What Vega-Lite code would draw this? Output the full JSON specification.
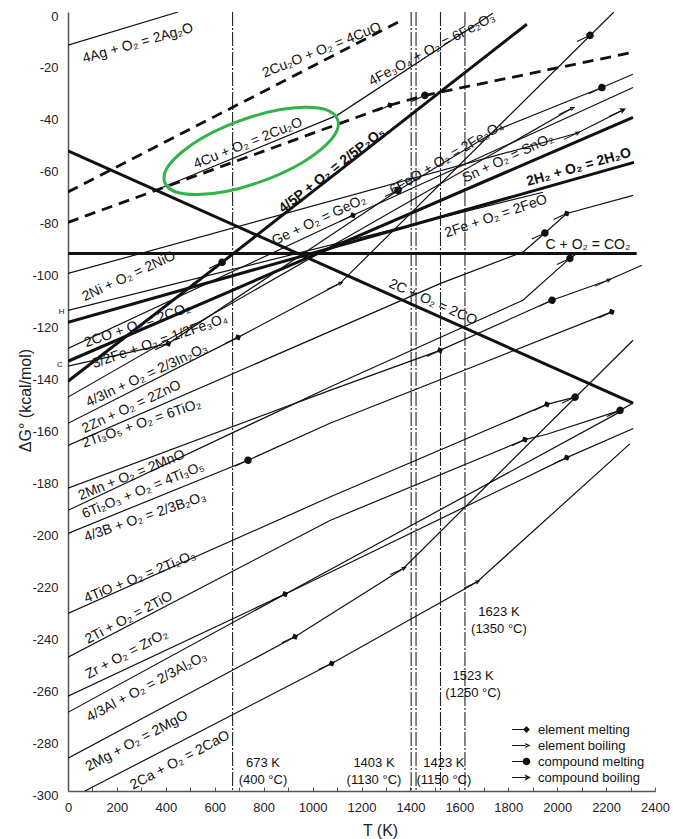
{
  "$schema": "https://vega.github.io/schema/vega-lite/v6.json",
  "width": 587,
  "height": 779,
  "autosize": {"type": "none"},
  "padding": {"left": 68, "top": 12, "right": 18, "bottom": 48},
  "background": "white",
  "config": {
    "view": {"stroke": null},
    "font": "Liberation Sans",
    "text": {"font": "Liberation Sans", "fontSize": 14, "color": "#111"}
  },
  "datasets": {
    "thin": [
      {"id": "Ag", "T": 0, "G": -12.8}, {"id": "Ag", "T": 450, "G": 0},
      {"id": "Fe2O3", "T": 388, "G": -67.5}, {"id": "Fe2O3", "T": 1100, "G": -39.8}, {"id": "Fe2O3", "T": 1737, "G": -0.5},
      {"id": "Sn", "T": 0, "G": -100.7}, {"id": "Sn", "T": 2081, "G": -46.7}, {"id": "Sn", "T": 2265, "G": -37.9},
      {"id": "FeO", "T": 0, "G": -114.9}, {"id": "FeO", "T": 1942, "G": -69.4},
      {"id": "Ge", "T": 0, "G": -129.6}, {"id": "Ge", "T": 1165, "G": -78.3}, {"id": "Ge", "T": 2310, "G": -29.1},
      {"id": "In", "T": 0, "G": -148.3}, {"id": "In", "T": 2059, "G": -37.2},
      {"id": "Zn", "T": 0, "G": -158.4}, {"id": "Zn", "T": 695, "G": -125.3}, {"id": "Zn", "T": 1112, "G": -104.5}, {"id": "Zn", "T": 2232, "G": 0},
      {"id": "FeO6", "T": 1349, "G": -68.7}, {"id": "FeO6", "T": 1766, "G": -44.9}, {"id": "FeO6", "T": 2183, "G": -29.1}, {"id": "FeO6", "T": 2310, "G": -24.0},
      {"id": "Fe3O4", "T": 0, "G": -136.4}, {"id": "Fe3O4", "T": 410, "G": -127.7}, {"id": "Fe3O4", "T": 1349, "G": -68.7},
      {"id": "Ti3O5", "T": 0, "G": -166.9}, {"id": "Ti3O5", "T": 1521, "G": -104.6}, {"id": "Ti3O5", "T": 1861, "G": -92.4}, {"id": "Ti3O5", "T": 1950, "G": -85.1}, {"id": "Ti3O5", "T": 2039, "G": -77.6}, {"id": "Ti3O5", "T": 2311, "G": -70.6},
      {"id": "Mn", "T": 0, "G": -183.4}, {"id": "Mn", "T": 1071, "G": -145.7}, {"id": "Mn", "T": 1521, "G": -130.3}, {"id": "Mn", "T": 1979, "G": -111.0}, {"id": "Mn", "T": 2208, "G": -103.3}, {"id": "Mn", "T": 2346, "G": -97.5},
      {"id": "Ti2O3", "T": 0, "G": -191.9}, {"id": "Ti2O3", "T": 1071, "G": -144.4}, {"id": "Ti2O3", "T": 1860, "G": -111.0}, {"id": "Ti2O3", "T": 2052, "G": -94.9}, {"id": "Ti2O3", "T": 2081, "G": -93.0},
      {"id": "B", "T": 0, "G": -200.8}, {"id": "B", "T": 736, "G": -172.6}, {"id": "B", "T": 1071, "G": -158.4}, {"id": "B", "T": 2223, "G": -115.5},
      {"id": "TiO", "T": 0, "G": -231.6}, {"id": "TiO", "T": 1071, "G": -186.8}, {"id": "TiO", "T": 1958, "G": -151.1}, {"id": "TiO", "T": 2073, "G": -148.3},
      {"id": "Ti", "T": 0, "G": -248.5}, {"id": "Ti", "T": 1071, "G": -195.8}, {"id": "Ti", "T": 1868, "G": -164.7}, {"id": "Ti", "T": 1958, "G": -162.6}, {"id": "Ti", "T": 2257, "G": -153.4}, {"id": "Ti", "T": 2311, "G": -150.6},
      {"id": "Zr", "T": 0, "G": -263.5}, {"id": "Zr", "T": 887, "G": -224.2}, {"id": "Zr", "T": 2039, "G": -171.6}, {"id": "Zr", "T": 2311, "G": -160.4},
      {"id": "Al", "T": 0, "G": -269.7}, {"id": "Al", "T": 887, "G": -224.2}, {"id": "Al", "T": 2257, "G": -154.0},
      {"id": "Mg", "T": 0, "G": -287.4}, {"id": "Mg", "T": 928, "G": -240.6}, {"id": "Mg", "T": 1371, "G": -214.3}, {"id": "Mg", "T": 2310, "G": -126.4},
      {"id": "Ca", "T": 69, "G": -300}, {"id": "Ca", "T": 1078, "G": -250.9}, {"id": "Ca", "T": 1672, "G": -219.5}, {"id": "Ca", "T": 2297, "G": -166.3}
    ],
    "thick": [
      {"id": "C2CO", "T": 0, "G": -53.5}, {"id": "C2CO", "T": 2310, "G": -150.6},
      {"id": "CO2", "T": 0, "G": -93}, {"id": "CO2", "T": 2325, "G": -93},
      {"id": "H2O", "T": 0, "G": -119.5}, {"id": "H2O", "T": 2314, "G": -57.9},
      {"id": "CO", "T": 0, "G": -134.5}, {"id": "CO", "T": 2310, "G": -40.6},
      {"id": "P", "T": 0, "G": -142.2}, {"id": "P", "T": 630, "G": -96.4}, {"id": "P", "T": 1876, "G": -4.7}
    ],
    "dashed": [
      {"id": "CuO", "T": 0, "G": -69.3}, {"id": "CuO", "T": 1365, "G": -3.2},
      {"id": "Cu2O", "T": 0, "G": -81}, {"id": "Cu2O", "T": 1316, "G": -35.9}, {"id": "Cu2O", "T": 1459, "G": -32.1}, {"id": "Cu2O", "T": 2310, "G": -15.5}
    ],
    "temps": [
      {"T": 673, "G": 0, "G2": -300}, {"T": 1403, "G": 0, "G2": -300}, {"T": 1423, "G": 0, "G2": -300},
      {"T": 1523, "G": 0, "G2": -300}, {"T": 1623, "G": 0, "G2": -300}
    ],
    "templabels": [
      {"T": 797, "G": -289.3, "txt": ["673 K", "(400 °C)"]},
      {"T": 1251, "G": -289.3, "txt": ["1403 K", "(1130 °C)"]},
      {"T": 1537, "G": -289.3, "txt": ["1423 K", "(1150 °C)"]},
      {"T": 1656, "G": -255.8, "txt": ["1523 K", "(1250 °C)"]},
      {"T": 1762, "G": -231.0, "txt": ["1623 K", "(1350 °C)"]}
    ],
    "markers": [
      {"T": 1316, "G": -35.9, "kind": "element melting"},
      {"T": 695, "G": -125.3, "kind": "element melting"},
      {"T": 1165, "G": -78.3, "kind": "element melting"},
      {"T": 887, "G": -224.2, "kind": "element melting"},
      {"T": 928, "G": -240.6, "kind": "element melting"},
      {"T": 1078, "G": -250.9, "kind": "element melting"},
      {"T": 1521, "G": -130.3, "kind": "element melting"},
      {"T": 1958, "G": -151.1, "kind": "element melting"},
      {"T": 1868, "G": -164.7, "kind": "element melting"},
      {"T": 2039, "G": -171.6, "kind": "element melting"},
      {"T": 2223, "G": -115.5, "kind": "element melting"},
      {"T": 410, "G": -127.7, "kind": "element melting"},
      {"T": 2039, "G": -77.6, "kind": "element melting"},
      {"T": 1112, "G": -104.5, "kind": "element boiling"},
      {"T": 1371, "G": -214.3, "kind": "element boiling"},
      {"T": 1672, "G": -219.5, "kind": "element boiling"},
      {"T": 2059, "G": -37.2, "kind": "element boiling"},
      {"T": 2081, "G": -46.7, "kind": "element boiling"},
      {"T": 2208, "G": -103.3, "kind": "element boiling"},
      {"T": 1459, "G": -32.1, "kind": "compound melting"},
      {"T": 630, "G": -96.4, "kind": "compound melting"},
      {"T": 2134, "G": -9.0, "kind": "compound melting"},
      {"T": 1349, "G": -68.7, "kind": "compound melting"},
      {"T": 2183, "G": -29.1, "kind": "compound melting"},
      {"T": 736, "G": -172.6, "kind": "compound melting"},
      {"T": 1979, "G": -111.0, "kind": "compound melting"},
      {"T": 2052, "G": -94.9, "kind": "compound melting"},
      {"T": 2073, "G": -148.3, "kind": "compound melting"},
      {"T": 2257, "G": -153.4, "kind": "compound melting"},
      {"T": 1950, "G": -85.1, "kind": "compound melting"},
      {"T": 2265, "G": -37.9, "kind": "compound boiling"}
    ],
    "highlight": [{"T": 749, "G": -53.5}],
    "axisletters": [{"T": -26, "G": -115.5, "s": "H"}, {"T": -33, "G": -136.1, "s": "C"}],
    "lab16": [{"T": 286, "G": -12.1, "s": "4Ag + O₂ = 2Ag₂O"}],
    "lab16b": [{"T": 2089, "G": -59.8, "s": "2H₂ + O₂ = 2H₂O"}],
    "lab19": [
      {"T": 1750, "G": -78.7, "s": "2Fe + O₂ = 2FeO"},
      {"T": 284, "G": -120.7, "s": "2CO + O₂ = 2CO₂"},
      {"T": 376, "G": -126.8, "s": "3/2Fe + O₂ = 1/2Fe₃O₄"},
      {"T": 301, "G": -158.5, "s": "2Ti₃O₅ + O₂ = 6TiO₂"},
      {"T": 315, "G": -194.5, "s": "4/3B + O₂ = 2/3B₂O₃"}
    ],
    "lab22": [
      {"T": 1038, "G": -14.7, "s": "2Cu₂O + O₂ = 4CuO"},
      {"T": 736, "G": -50.6, "s": "4Cu + O₂ = 2Cu₂O"},
      {"T": 260, "G": -178.4, "s": "2Mn + O₂ = 2MnO"},
      {"T": 307, "G": -184.2, "s": "6Ti₂O₃ + O₂ = 4Ti₃O₅"},
      {"T": 294, "G": -217.6, "s": "4TiO + O₂ = 2Ti₂O₃"}
    ],
    "lab25": [
      {"T": 1026, "G": -80.2, "s": "Ge + O₂ = GeO₂"},
      {"T": 1799, "G": -56.3, "s": "Sn + O₂ = SnO₂"},
      {"T": 249, "G": -101.8, "s": "2Ni + O₂ = 2NiO"},
      {"T": 322, "G": -139.9, "s": "4/3In + O₂ = 2/3In₂O₃"},
      {"T": 260, "G": -152.1, "s": "2Zn + O₂ = 2ZnO"}
    ],
    "lab28": [
      {"T": 1488, "G": -14.4, "s": "4Fe₃O₄ + O₂ = 6Fe₂O₃"},
      {"T": 249, "G": -233.3, "s": "2Ti + O₂ = 2TiO"},
      {"T": 240, "G": -247.3, "s": "Zr + O₂ = ZrO₂"},
      {"T": 322, "G": -259.9, "s": "4/3Al + O₂ = 2/3Al₂O₃"},
      {"T": 281, "G": -280.8, "s": "2Mg + O₂ = 2MgO"},
      {"T": 458, "G": -288.2, "s": "2Ca + O₂ = 2CaO"}
    ],
    "lab31": [{"T": 1549, "G": -56.3, "s": "6FeO + O₂ = 2Fe₃O₄"}],
    "lab38b": [{"T": 1079, "G": -61.0, "s": "4/5P + O₂ = 2/5P₂O₅"}],
    "lab0": [{"T": 2126, "G": -89.8, "s": "C + O₂ = CO₂"}],
    "labp24": [{"T": 1492, "G": -111.8, "s": "2C + O₂ = 2CO"}]
  },
  "encoding": {
    "x": {
      "field": "T", "type": "quantitative", "title": "T (K)",
      "scale": {"domain": [0, 2400], "nice": false, "zero": false},
      "axis": {
        "values": [0, 100, 200, 300, 400, 500, 600, 700, 800, 900, 1000, 1100, 1200, 1300, 1400, 1500, 1600, 1700, 1800, 1900, 2000, 2100, 2200, 2300, 2400],
        "format": "d",
        "labelExpr": "datum.value % 200 === 0 ? datum.label : ''",
        "grid": false, "tickSize": -4, "labelPadding": 14, "labelFlush": false, "labelOverlap": false,
        "domainColor": "#555", "domainWidth": 1.5, "tickColor": "#555", "tickWidth": 1,
        "labelFont": "Liberation Sans", "labelFontSize": 13, "labelColor": "#222",
        "titleFont": "Liberation Sans", "titleFontSize": 16, "titleFontWeight": "normal", "titleColor": "#222",
        "titleX": 312, "titleY": 39, "titleBaseline": "middle"
      }
    },
    "y": {
      "field": "G", "type": "quantitative", "title": "ΔG° (kcal/mol)",
      "scale": {"domain": [-300, 0], "nice": false, "zero": false},
      "axis": {
        "values": [0, -20, -40, -60, -80, -100, -120, -140, -160, -180, -200, -220, -240, -260, -280, -300],
        "labelExpr": "replace(datum.label, '−', '-')",
        "grid": false, "ticks": false, "labelPadding": 10, "labelOffset": 4,
        "domainColor": "#555", "domainWidth": 1.5,
        "labelFont": "Liberation Sans", "labelFontSize": 13, "labelColor": "#222",
        "titleFont": "Liberation Sans", "titleFontSize": 16, "titleFontWeight": "normal", "titleColor": "#222",
        "titleX": -43, "titleY": 388, "titleBaseline": "middle", "titleAlign": "center", "titleAngle": -90
      }
    }
  },
  "layer": [
    {
      "data": {"name": "temps"},
      "mark": {"type": "rule", "color": "#222", "strokeWidth": 1.1, "strokeDash": [14, 2, 2, 2]},
      "encoding": {"y2": {"field": "G2"}}
    },
    {
      "data": {"name": "thin"},
      "mark": {"type": "line", "color": "#111", "strokeWidth": 1.2, "clip": true},
      "encoding": {"detail": {"field": "id"}}
    },
    {
      "data": {"name": "thick"},
      "mark": {"type": "line", "color": "#111", "strokeWidth": 3, "clip": true},
      "encoding": {"detail": {"field": "id"}}
    },
    {
      "data": {"name": "dashed"},
      "mark": {"type": "line", "color": "#111", "strokeWidth": 2.8, "strokeDash": [11, 7], "clip": true},
      "encoding": {"detail": {"field": "id"}}
    },
    {
      "data": {"name": "markers"},
      "mark": {"type": "point", "filled": true, "color": "#111", "size": 64, "angle": -25, "opacity": 1},
      "encoding": {
        "shape": {
          "field": "kind", "type": "nominal",
          "scale": {
            "domain": ["element melting", "element boiling", "compound melting", "compound boiling"],
            "range": [
              "M-3.6,-0.14L-0.5,-0.14L-0.5,0.14L-3.6,0.14ZM0,-0.85L0.85,0L0,0.85L-0.85,0Z",
              "M-3.6,-0.12L0.2,-0.12L0.2,0.12L-3.6,0.12ZM1,0L-0.35,-0.6L-0.15,0L-0.35,0.6Z",
              "M-3.6,-0.14L-0.6,-0.14L-0.6,0.14L-3.6,0.14ZM0.95,0A0.95,0.95,0,1,1,-0.95,0A0.95,0.95,0,1,1,0.95,0Z",
              "M-3.6,-0.14L0,-0.14L0,0.14L-3.6,0.14ZM1.1,0L-0.5,-0.8L-0.1,0L-0.5,0.8Z"
            ]
          },
          "legend": {
            "orient": "none", "legendX": 452, "legendY": 711, "title": null,
            "labelFont": "Liberation Sans", "labelFontSize": 13, "labelColor": "#111",
            "symbolSize": 64, "symbolFillColor": "#111", "symbolStrokeWidth": 0,
            "rowPadding": 2, "padding": 0, "labelOffset": 5
          }
        }
      }
    },
    {
      "data": {"name": "highlight"},
      "mark": {"type": "point", "shape": "M1,0A1,0.35,0,1,1,-1,0A1,0.35,0,1,1,1,0Z", "size": 33856, "angle": -20, "filled": false, "stroke": "#33b249", "strokeWidth": 3, "opacity": 1}
    },
    {
      "data": {"name": "axisletters"},
      "mark": {"type": "text", "fontSize": 8, "align": "center", "baseline": "middle", "clip": false},
      "encoding": {"text": {"field": "s"}}
    },
    {
      "data": {"name": "templabels"},
      "mark": {"type": "text", "fontSize": 13, "align": "center", "baseline": "middle", "lineHeight": 17},
      "encoding": {"text": {"field": "txt"}}
    },
    {
      "data": {"name": "lab16"},
      "mark": {"type": "text", "angle": -16, "align": "center", "baseline": "middle"},
      "encoding": {"text": {"field": "s"}}
    },
    {
      "data": {"name": "lab16b"},
      "mark": {"type": "text", "angle": -16, "align": "center", "baseline": "middle", "fontWeight": "bold"},
      "encoding": {"text": {"field": "s"}}
    },
    {
      "data": {"name": "lab19"},
      "mark": {"type": "text", "angle": -19, "align": "center", "baseline": "middle"},
      "encoding": {"text": {"field": "s"}}
    },
    {
      "data": {"name": "lab22"},
      "mark": {"type": "text", "angle": -22, "align": "center", "baseline": "middle"},
      "encoding": {"text": {"field": "s"}}
    },
    {
      "data": {"name": "lab25"},
      "mark": {"type": "text", "angle": -25, "align": "center", "baseline": "middle"},
      "encoding": {"text": {"field": "s"}}
    },
    {
      "data": {"name": "lab28"},
      "mark": {"type": "text", "angle": -28, "align": "center", "baseline": "middle"},
      "encoding": {"text": {"field": "s"}}
    },
    {
      "data": {"name": "lab31"},
      "mark": {"type": "text", "angle": -31, "align": "center", "baseline": "middle"},
      "encoding": {"text": {"field": "s"}}
    },
    {
      "data": {"name": "lab38b"},
      "mark": {"type": "text", "angle": -38, "align": "center", "baseline": "middle", "fontWeight": "bold"},
      "encoding": {"text": {"field": "s"}}
    },
    {
      "data": {"name": "lab0"},
      "mark": {"type": "text", "angle": 0, "align": "center", "baseline": "middle"},
      "encoding": {"text": {"field": "s"}}
    },
    {
      "data": {"name": "labp24"},
      "mark": {"type": "text", "angle": 24, "align": "center", "baseline": "middle"},
      "encoding": {"text": {"field": "s"}}
    }
  ]
}
